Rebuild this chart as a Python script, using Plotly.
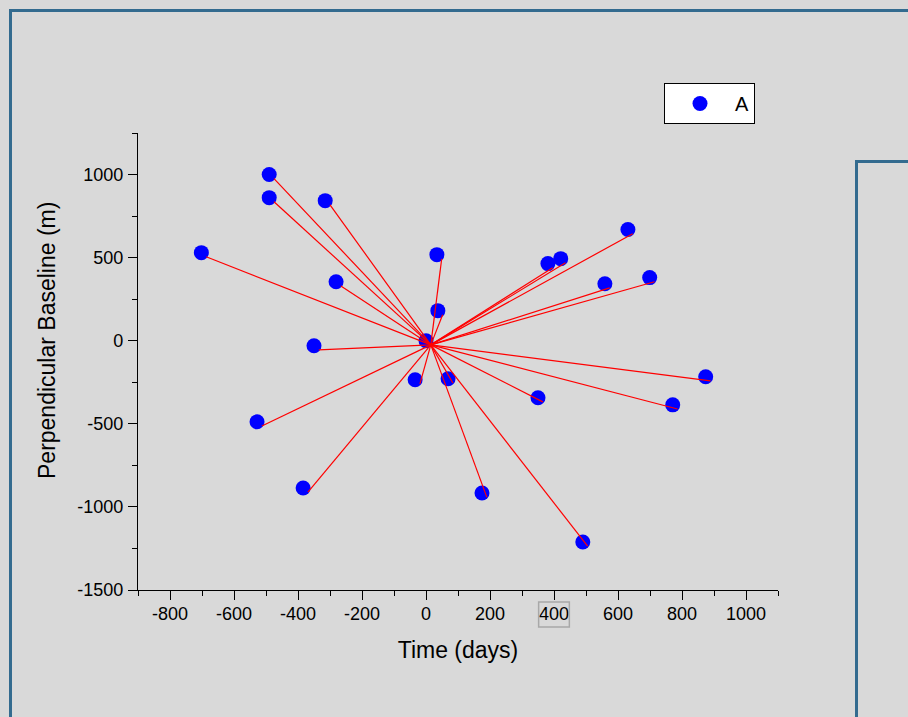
import plotly.graph_objects as go

# ---- data ----
time_days = [-490, -490, -315, -702, -281, 34, 37, -350, 0, -34, 69,
             -528, -384, 175, 490, 350, 381, 421, 559, 631, 699, 874, 771]
bperp_m = [1000, 861, 843, 530, 355, 518, 181, -30, 0, -235, -229,
           -488, -886, -916, -1211, -343, 464, 494, 343, 669, 380, -217, -386]
master_time = 0
master_bperp = 0
series_name = "A"
x_ticks = [-800, -600, -400, -200, 0, 200, 400, 600, 800, 1000]
y_ticks = [-1500, -1000, -500, 0, 500, 1000]
x_title = "Time (days)"
y_title = "Perpendicular Baseline (m)"

# drawn lines sit slightly offset from the markers in the reference
line_dx, line_dy = 15, -25

lx, ly = [], []
for t, b in zip(time_days, bperp_m):
    if t == master_time and b == master_bperp:
        continue
    lx += [master_time + line_dx, t + line_dx, None]
    ly += [master_bperp + line_dy, b + line_dy, None]

FONT = "Liberation Sans, Arial, sans-serif"
BG = "#d9d9d9"
FRAME = "#336b8f"

fig = go.Figure()
fig.add_trace(go.Scatter(x=time_days, y=bperp_m, mode="markers", name=series_name,
                         marker=dict(color="#0000ff", size=15, line=dict(width=0))))
fig.add_trace(go.Scatter(x=lx, y=ly, mode="lines", showlegend=False,
                         line=dict(color="#ff0000", width=1.2), hoverinfo="skip"))

W, H = 908, 717
L, R, T, B = 138, 130, 133, 127
pw, ph = W - L - R, H - T - B


def px(xp):
    return (xp - L) / pw


def py(yp):
    return (H - B - yp) / ph


shapes = [
    # outer frame
    dict(type="rect", xref="paper", yref="paper", x0=px(10.5), x1=px(1000), y0=py(10.5), y1=py(800),
         line=dict(color=FRAME, width=3), fillcolor="rgba(0,0,0,0)", layer="below"),
    # right panel
    dict(type="rect", xref="paper", yref="paper", x0=px(856.5), x1=px(1000), y0=py(161.5), y1=py(800),
         line=dict(color=FRAME, width=3), fillcolor="rgba(0,0,0,0)", layer="below"),
    # selection box around the "400" tick label
    dict(type="rect", xref="x", yref="paper", x0=400 - 48, x1=400 + 48, y0=py(627), y1=py(602),
         line=dict(color="#a8a8a8", width=1.5), fillcolor="rgba(0,0,0,0)"),
]

axis_common = dict(showline=True, linecolor="black", linewidth=1.3, ticks="outside",
                   ticklen=9, tickwidth=1.3, tickcolor="black", showgrid=False, zeroline=False,
                   tickfont=dict(family=FONT, size=18, color="black"), mirror=False)

fig.update_layout(
    width=W, height=H,
    margin=dict(l=L, r=R, t=T, b=B, autoexpand=False),
    paper_bgcolor=BG, plot_bgcolor=BG,
    font=dict(family=FONT, color="black"),
    xaxis=dict(range=[-900, 1100], tickvals=x_ticks, ticktext=[str(v) for v in x_ticks],
               ticklabelstandoff=-2,
               title=dict(text=x_title, font=dict(family=FONT, size=23), standoff=19),
               minor=dict(ticks="outside", ticklen=5, tickwidth=1.2, tickcolor="black", dtick=100, tick0=0),
               **axis_common),
    yaxis=dict(range=[-1500, 1250], tickvals=y_ticks, ticktext=[str(v) for v in y_ticks],
               ticklabelstandoff=1,
               minor=dict(ticks="outside", ticklen=5, tickwidth=1.2, tickcolor="black", dtick=250, tick0=0),
               **axis_common),
    annotations=[dict(text=y_title, xref="paper", yref="paper", x=px(47), y=py(341),
                      xanchor="center", yanchor="middle", textangle=-90, showarrow=False,
                      font=dict(family=FONT, size=23, color="black"))],
    showlegend=True,
    legend=dict(x=px(664), y=py(83), xanchor="left", yanchor="top",
                bgcolor="white", bordercolor="black", borderwidth=1,
                font=dict(family=FONT, size=20, color="black"), itemwidth=60),
    shapes=shapes,
)

fig.write_html("out.html")
